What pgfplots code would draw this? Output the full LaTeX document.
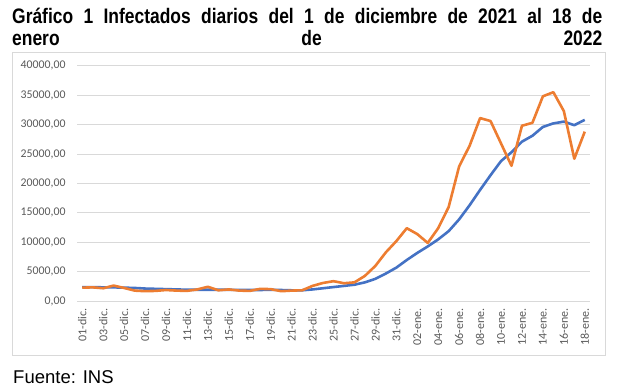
\documentclass[border=0pt]{standalone}
\usepackage{fontspec}
\setmainfont{Liberation Sans}
\newfontfamily\calibri{Carlito}
\usepackage{pgfplots}
\pgfplotsset{compat=1.18}
\usepackage{graphicx}
\definecolor{xlblue}{HTML}{4472C4}
\definecolor{xlorange}{HTML}{ED7D31}
\definecolor{xlgrid}{HTML}{D9D9D9}
\definecolor{xltext}{HTML}{595959}
\begin{document}
\begin{tikzpicture}[x=1pt,y=1pt]
\path[use as bounding box] (0,0) rectangle (628,391);
% chart frame
\draw[xlgrid, line width=0.9pt] (12.3,36) rectangle (605,338.3);
% title
\node[anchor=base west, inner sep=0pt] at (12,367.5) {\scalebox{0.83}[1]{\makebox[711pt][s]{\fontsize{21}{25}\selectfont\bfseries Gráfico 1 Infectados diarios del 1 de diciembre de 2021 al 18 de}}};
\node[anchor=base west, inner sep=0pt] at (12,345.5) {\scalebox{0.83}[1]{\makebox[711pt][s]{\fontsize{21}{25}\selectfont\bfseries enero de 2022}}};
% source
\node[anchor=base west, inner sep=0pt] at (13,7.5) {\fontsize{18.5}{22}\selectfont Fuente: INS};
\begin{axis}[
  at={(77pt,89.8pt)}, anchor=south west,
  scale only axis, width=513pt, height=235.5pt,
  xmin=-0.5, xmax=48.5, ymin=0, ymax=40000,
  scaled y ticks=false,
  axis line style={draw=none},
  major tick length=0pt,
  ymajorgrids, grid style={xlgrid, line width=0.9pt},
  ytick={0,5000,...,40000},
  yticklabels={{0,00},{5000,00},{10000,00},{15000,00},{20000,00},{25000,00},{30000,00},{35000,00},{40000,00}},
  xtick={0,2,...,48},
  xticklabels={01-dic.,03-dic.,05-dic.,07-dic.,09-dic.,11-dic.,13-dic.,15-dic.,17-dic.,19-dic.,21-dic.,23-dic.,25-dic.,27-dic.,29-dic.,31-dic.,02-ene.,04-ene.,06-ene.,08-ene.,10-ene.,12-ene.,14-ene.,16-ene.,18-ene.},
  yticklabel style={inner sep=0pt, xshift=-11.3pt, font=\calibri\fontsize{11.8}{14}\selectfont, text=xltext},
  xticklabel style={yshift=-6.8pt, rotate=90, anchor=east, inner sep=0pt, font=\calibri\fontsize{12}{14}\selectfont, text=xltext},
  clip=false,
]
\addplot[xlblue, line width=2.6pt, line join=round] coordinates {
(0,2400)(1,2400)(2,2350)(3,2350)(4,2300)(5,2250)(6,2150)(7,2100)(8,2050)(9,2000)
(10,1950)(11,1950)(12,1950)(13,1950)(14,1950)(15,1900)(16,1900)(17,1900)(18,1950)(19,1900)
(20,1850)(21,1850)(22,2000)(23,2200)(24,2400)(25,2600)(26,2800)(27,3200)(28,3800)(29,4700)
(30,5700)(31,7000)(32,8200)(33,9300)(34,10500)(35,11900)(36,13900)(37,16300)(38,18900)(39,21400)
(40,23800)(41,25300)(42,27100)(43,28100)(44,29600)(45,30200)(46,30500)(47,29900)(48,30800)
};
\addplot[xlorange, line width=2.6pt, line join=round] coordinates {
(0,2300)(1,2350)(2,2200)(3,2650)(4,2250)(5,1800)(6,1700)(7,1750)(8,1900)(9,1800)
(10,1750)(11,2000)(12,2450)(13,1850)(14,2000)(15,1800)(16,1750)(17,2100)(18,2050)(19,1700)
(20,1800)(21,1850)(22,2600)(23,3100)(24,3400)(25,3050)(26,3200)(27,4300)(28,6000)(29,8300)
(30,10200)(31,12400)(32,11400)(33,9900)(34,12400)(35,16000)(36,22900)(37,26400)(38,31100)(39,30600)
(40,26800)(41,23000)(42,29800)(43,30300)(44,34800)(45,35500)(46,32300)(47,24200)(48,28800)
};
\end{axis}
\end{tikzpicture}
\end{document}
